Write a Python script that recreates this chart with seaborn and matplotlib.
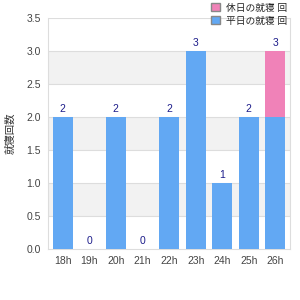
import numpy as np
import pandas as pd
import seaborn as sns
import matplotlib.pyplot as plt
from matplotlib.patches import Patch

hours = ["18h", "19h", "20h", "21h", "22h", "23h", "24h", "25h", "26h"]
blue_vals = [2, 0, 2, 0, 2, 3, 1, 2, 2]
pink_vals = [0, 0, 0, 0, 0, 0, 0, 0, 1]
pink_name = "休日の就寝 回"
blue_name = "平日の就寝 回"
y_name = "就寝回数"

sns.set_style("white")
plt.rcParams['font.family'] = ['Liberation Sans', 'Noto Sans CJK JP']

blue = "#62a8f3"
pink = "#f082b8"
totals = [b + p for b, p in zip(blue_vals, pink_vals)]
df = pd.DataFrame({"hour": hours, "blue": blue_vals, "total": totals})

fig = plt.figure(figsize=(3, 3), dpi=100)
ax = fig.add_axes([0.16, 0.17, 0.807, 0.77])

# alternating bands
for lo in [0.5, 1.5, 2.5]:
    ax.axhspan(lo, lo + 0.5, color="#f2f2f2", zorder=0, lw=0)
for y in np.arange(0.5, 3.51, 0.5):
    ax.axhline(y, color="#dddddd", lw=0.8, zorder=0.5)

sns.barplot(data=df, x="hour", y="total", color=pink, saturation=1,
            width=0.75, linewidth=0, ax=ax, zorder=2)
sns.barplot(data=df, x="hour", y="blue", color=blue, saturation=1,
            width=0.75, linewidth=0, ax=ax, zorder=3)

for i, t in enumerate(totals):
    ax.text(i, t + 0.04, str(t), ha="center", va="bottom", fontsize=7.5,
            color="#1c1c8a", zorder=4)

ax.set_ylim(0, 3.5)
ax.set_yticks(np.arange(0, 3.51, 0.5))
ax.set_yticklabels([f"{v:.1f}" for v in np.arange(0, 3.51, 0.5)])
ax.set_xlim(-0.55, 8.55)
ax.set_xlabel("")
ax.set_ylabel(y_name, fontsize=7.5, color="#333333", labelpad=8)
ax.tick_params(axis="both", labelsize=7.5, colors="#444444", length=0, pad=5)

ax.spines["top"].set_visible(False)
for s in ["left", "right", "bottom"]:
    ax.spines[s].set_color("#dddddd")
    ax.spines[s].set_linewidth(0.8)

handles = [Patch(facecolor=pink, edgecolor="#888888", label=pink_name),
           Patch(facecolor=blue, edgecolor="#888888", label=blue_name)]
fig.legend(handles=handles, loc="upper right", bbox_to_anchor=(0.985, 1.02),
           frameon=False, fontsize=7, handlelength=0.9, handleheight=0.9,
           handletextpad=0.6, labelspacing=0.3)

fig.savefig("out.png", dpi=100)
